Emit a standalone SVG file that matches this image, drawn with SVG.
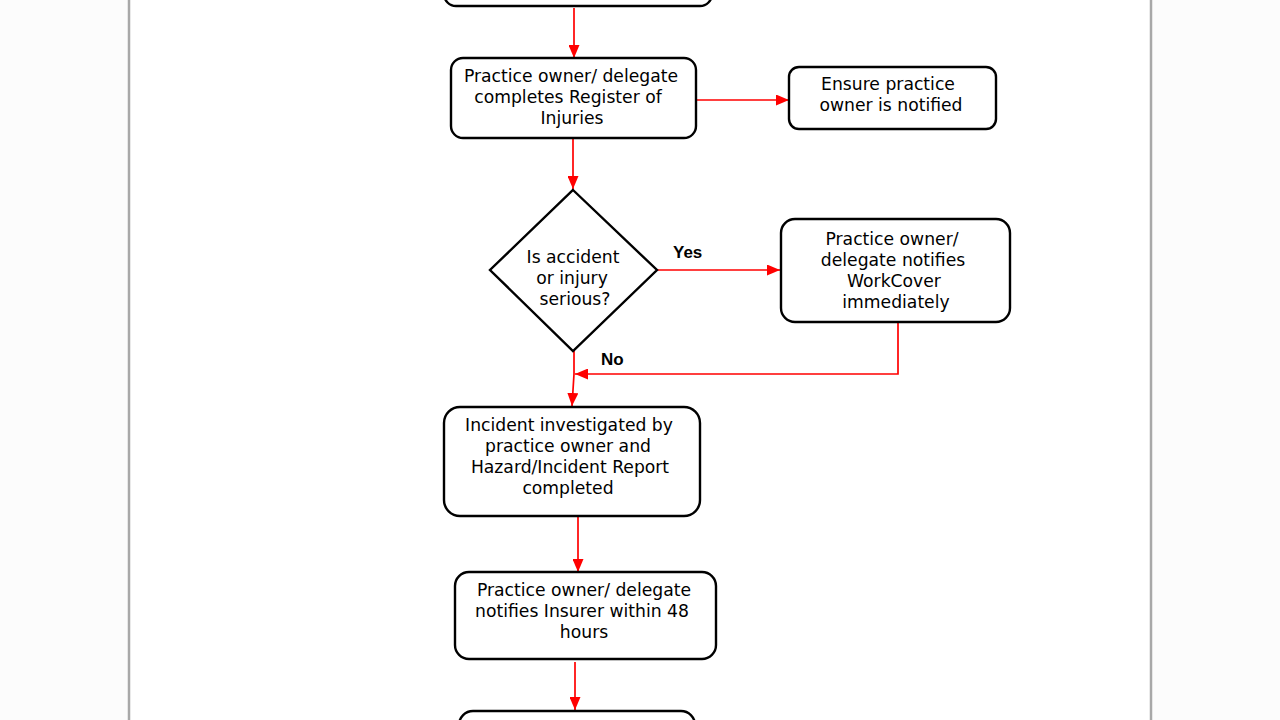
<svg xmlns="http://www.w3.org/2000/svg" width="1280" height="720" viewBox="0 0 1280 720">
<defs>
<marker id="ah" viewBox="0 0 13 11" refX="13" refY="5.5" markerWidth="13" markerHeight="11" markerUnits="userSpaceOnUse" orient="auto">
<path d="M0,0 L13,5.5 L0,11 Z" fill="#ff0000"/>
</marker>
<style>
.box{fill:#ffffff;stroke:#000000;stroke-width:2.4}
.t{font-family:"DejaVu Sans",Verdana,sans-serif;font-size:17.2px;fill:#000000;text-anchor:middle}
.lbl{font-family:"Liberation Sans",Arial,sans-serif;font-size:17px;font-weight:bold;fill:#000000}
.c{fill:none;stroke:#ff0000;stroke-width:1.7}
</style>
</defs>
<rect x="0" y="0" width="1280" height="720" fill="#fcfcfc"/>
<rect x="129" y="-5" width="1022" height="730" fill="#ffffff" stroke="#a8a8a8" stroke-width="2.5"/>

<g id="connectors">
<line class="c" x1="574" y1="8" x2="574" y2="58" marker-end="url(#ah)"/>
<line class="c" x1="696" y1="100" x2="789" y2="100" marker-end="url(#ah)"/>
<line class="c" x1="573" y1="138" x2="573" y2="189" marker-end="url(#ah)"/>
<line class="c" x1="657" y1="270" x2="780" y2="270" marker-end="url(#ah)"/>
<polyline class="c" points="898,322 898,374 575,374" marker-end="url(#ah)"/>
<polyline class="c" points="574,351 574,374 572,406" marker-end="url(#ah)"/>
<line class="c" x1="578" y1="516" x2="578" y2="572" marker-end="url(#ah)"/>
<line class="c" x1="575" y1="662" x2="575" y2="710" marker-end="url(#ah)"/>
<text class="lbl" x="673" y="258">Yes</text>
<text class="lbl" x="601" y="365">No</text>
</g>

<g id="node-top">
<rect class="box" x="444" y="-30" width="268" height="36" rx="12"/>
</g>

<g id="node-register">
<rect class="box" x="451" y="58" width="245" height="80" rx="12"/>
<text class="t" x="571" y="82">Practice owner/ delegate</text>
<text class="t" x="568" y="103">completes Register of</text>
<text class="t" x="572" y="124">Injuries</text>
</g>

<g id="node-ensure">
<rect class="box" x="789" y="67" width="207" height="62" rx="10"/>
<text class="t" x="888" y="90">Ensure practice</text>
<text class="t" x="891" y="111">owner is notified</text>
</g>

<g id="node-decision">
<polygon points="573,190 657,270 573,351 490,270" fill="#ffffff" stroke="#000000" stroke-width="2.4"/>
<text class="t" x="573" y="263">Is accident</text>
<text class="t" x="572" y="284">or injury</text>
<text class="t" x="575" y="305">serious?</text>
</g>

<g id="node-workcover">
<rect class="box" x="781" y="219" width="229" height="103" rx="14"/>
<text class="t" x="892" y="245">Practice owner/</text>
<text class="t" x="893" y="266">delegate notifies</text>
<text class="t" x="894" y="287">WorkCover</text>
<text class="t" x="896" y="308">immediately</text>
</g>

<g id="node-investigated">
<rect class="box" x="444" y="407" width="256" height="109" rx="16"/>
<text class="t" x="569" y="431">Incident investigated by</text>
<text class="t" x="568" y="452">practice owner and</text>
<text class="t" x="570" y="473">Hazard/Incident Report</text>
<text class="t" x="568" y="494">completed</text>
</g>

<g id="node-insurer">
<rect class="box" x="455" y="572" width="261" height="87" rx="14"/>
<text class="t" x="584" y="596">Practice owner/ delegate</text>
<text class="t" x="582" y="617">notifies Insurer within 48</text>
<text class="t" x="584" y="638">hours</text>
</g>

<g id="node-bottom">
<rect class="box" x="459" y="711" width="236" height="40" rx="14"/>
</g>
</svg>
